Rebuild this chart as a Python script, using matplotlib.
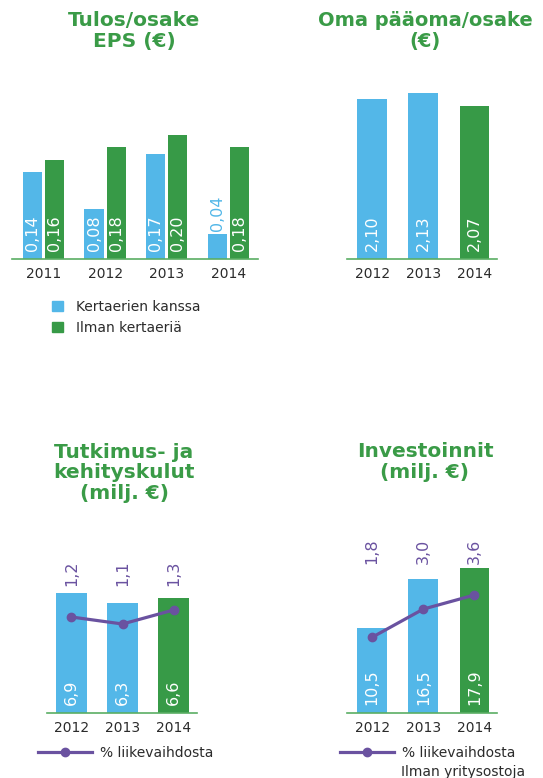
import matplotlib
matplotlib.use("Agg")
import matplotlib.pyplot as plt
from matplotlib.patches import Patch
from matplotlib.lines import Line2D
import numpy as np

# data
eps_years = ["2011", "2012", "2013", "2014"]
eps_with = [0.14, 0.08, 0.17, 0.04]      # Kertaerien kanssa
eps_without = [0.16, 0.18, 0.20, 0.18]   # Ilman kertaeriä

equity_years = ["2012", "2013", "2014"]
equity = [2.10, 2.13, 2.07]

rd_years = ["2012", "2013", "2014"]
rd_cost = [6.9, 6.3, 6.6]
rd_pct = [1.2, 1.1, 1.3]

inv_years = ["2012", "2013", "2014"]
inv_cost = [10.5, 16.5, 17.9]
inv_pct = [1.8, 3.0, 3.6]

BLUE = "#53b7e8"
GREEN = "#379a47"
PURPLE = "#6a52a0"
TEXT = "#2b2b2b"
TITLE = "#3a9b47"

W, H = 543, 778
fig = plt.figure(figsize=(W / 100, H / 100), dpi=100)


def axes_px(left, right, base, height):
    # place an axes by pixel edges (top-left origin)
    return fig.add_axes([left / W, (H - base) / H, (right - left) / W, height / H])


def style(ax, years):
    for s in ["top", "left", "right"]:
        ax.spines[s].set_visible(False)
    ax.spines["bottom"].set_color("#5aae64")
    ax.spines["bottom"].set_linewidth(1.2)
    ax.set_yticks([])
    ax.set_xticks(range(len(years)))
    ax.set_xticklabels(years, fontsize=10, color=TEXT)
    ax.tick_params(axis="x", length=0, pad=6)
    ax.patch.set_alpha(0)


def fmt(v, nd):
    return f"{v:.{nd}f}".replace(".", ",")


def inner_labels(ax, xs, vals, nd, min_h):
    for x, v in zip(xs, vals):
        if v - ax.get_ylim()[0] >= min_h:
            ax.annotate(fmt(v, nd), (x, ax.get_ylim()[0]), xytext=(0, 6),
                        textcoords="offset points", rotation=90, ha="center",
                        va="bottom", color="white", fontsize=11.5)
        else:
            ax.annotate(fmt(v, nd), (x, v), xytext=(0, 2),
                        textcoords="offset points", rotation=90, ha="center",
                        va="bottom", color=BLUE, fontsize=11.5)


# --- Tulos/osake ---
ax1 = axes_px(12, 258, 259, 150)
x = np.arange(len(eps_years))
ax1.bar(x - 0.18, eps_with, 0.31, color=BLUE)
ax1.bar(x + 0.18, eps_without, 0.31, color=GREEN)
ax1.set_xlim(-0.51, 3.48)
ax1.set_ylim(0, 150 / 620)
style(ax1, eps_years)
inner_labels(ax1, x - 0.18, eps_with, 2, 0.06)
inner_labels(ax1, x + 0.18, eps_without, 2, 0.06)
fig.text(134 / W, 1 - 31 / H, "Tulos/osake\nEPS (€)", ha="center", va="center",
         fontsize=14.5, fontweight="bold", color=TITLE, linespacing=1.1)
fig.legend(handles=[Patch(color=BLUE, label="Kertaerien kanssa"),
                    Patch(color=GREEN, label="Ilman kertaeriä")],
           loc="upper left", bbox_to_anchor=(52 / W, 1 - 300 / H), frameon=False,
           fontsize=10, handlelength=0.8, handleheight=0.8, handletextpad=0.9,
           labelspacing=0.5, borderpad=0, borderaxespad=0, labelcolor=TEXT)

# --- Oma pääoma/osake ---
ax2 = axes_px(347, 497, 259, 180)
x = np.arange(len(equity_years))
ax2.bar(x, equity, 0.58, color=[BLUE, BLUE, GREEN])
ax2.set_xlim(-0.49, 2.44)
ax2.set_ylim(1.4, 1.4 + 180 / 228)
style(ax2, equity_years)
inner_labels(ax2, x, equity, 2, 0.1)
fig.text(425 / W, 1 - 31 / H, "Oma pääoma/osake\n(€)", ha="center", va="center",
         fontsize=14, fontweight="bold", color=TITLE, linespacing=1.13)

# --- Tutkimus- ja kehityskulut ---
ax3 = axes_px(47, 197, 713, 160)
x = np.arange(len(rd_years))
ax3.bar(x, rd_cost, 0.6, color=[BLUE, BLUE, GREEN])
ax3.set_xlim(-0.48, 2.46)
ax3.set_ylim(0, 160 / 17.4)
style(ax3, rd_years)
inner_labels(ax3, x, rd_cost, 1, 1)
ax3b = ax3.twinx()
ax3b.set_ylim(-12 / 70, -12 / 70 + 160 / 70)
ax3b.plot(x, rd_pct, color=PURPLE, lw=2.3, marker="o", ms=6)
ax3b.axis("off")
for xi, v in zip(x, rd_pct):
    ax3.annotate(fmt(v, 1), (xi, max(rd_cost)), xytext=(0, 5), textcoords="offset points",
                 rotation=90, ha="center", va="bottom", color=PURPLE, fontsize=11.5)
fig.text(124 / W, 1 - 473 / H, "Tutkimus- ja\nkehityskulut\n(milj. €)", ha="center",
         va="center", fontsize=14.5, fontweight="bold", color=TITLE, linespacing=1.1)
fig.legend(handles=[Line2D([], [], color=PURPLE, lw=2.3, marker="o", ms=6,
                           label="% liikevaihdosta")],
           loc="center left", bbox_to_anchor=(38 / W, 1 - 753 / H), frameon=False,
           fontsize=10, handlelength=3.9, handletextpad=0.55, borderpad=0,
           borderaxespad=0, labelcolor=TEXT)

# --- Investoinnit ---
ax4 = axes_px(347, 497, 713, 190)
x = np.arange(len(inv_years))
ax4.bar(x, inv_cost, 0.58, color=[BLUE, BLUE, GREEN])
ax4.set_xlim(-0.49, 2.44)
ax4.set_ylim(0, 190 / 8.1)
style(ax4, inv_years)
inner_labels(ax4, x, inv_cost, 1, 1)
ax4b = ax4.twinx()
ax4b.set_ylim(-33.4 / 23.5, -33.4 / 23.5 + 190 / 23.5)
ax4b.plot(x, inv_pct, color=PURPLE, lw=2.3, marker="o", ms=6)
ax4b.axis("off")
for xi, v in zip(x, inv_pct):
    ax4.annotate(fmt(v, 1), (xi, max(inv_cost)), xytext=(0, 3), textcoords="offset points",
                 rotation=90, ha="center", va="bottom", color=PURPLE, fontsize=11.5)
fig.text(425 / W, 1 - 462 / H, "Investoinnit\n(milj. €)", ha="center", va="center",
         fontsize=14.5, fontweight="bold", color=TITLE, linespacing=1.1)
fig.legend(handles=[Line2D([], [], color=PURPLE, lw=2.3, marker="o", ms=6,
                           label="% liikevaihdosta")],
           loc="center left", bbox_to_anchor=(340 / W, 1 - 753 / H), frameon=False,
           fontsize=10, handlelength=3.9, handletextpad=0.55, borderpad=0,
           borderaxespad=0, labelcolor=TEXT)
fig.text(401 / W, 1 - 772 / H, "Ilman yritysostoja", ha="left", va="center",
         fontsize=10, color=TEXT)

fig.savefig("out.png", dpi=100)
